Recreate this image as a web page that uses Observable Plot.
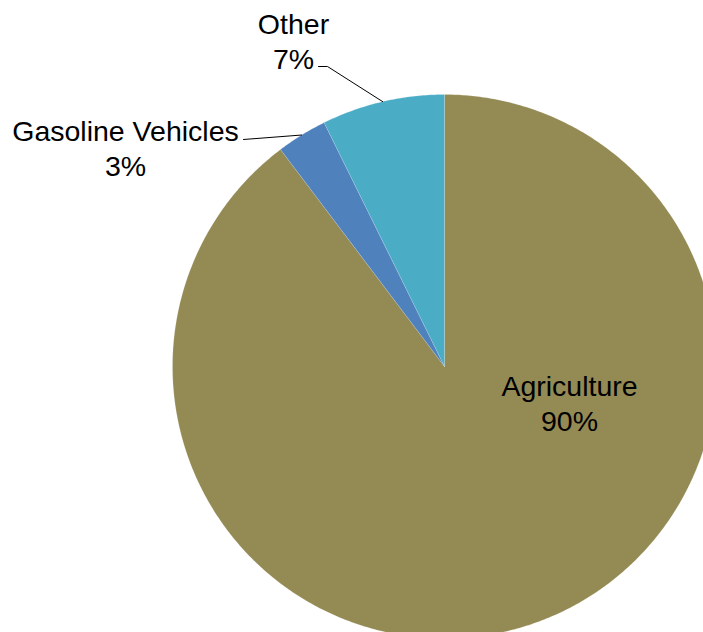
<!DOCTYPE html>
<html><head><meta charset="utf-8">
<script src="https://cdn.jsdelivr.net/npm/d3@7"></script>
<script src="https://cdn.jsdelivr.net/npm/@observablehq/plot@0.6"></script>
<style>html,body{margin:0;padding:0;overflow:hidden;background:#fff}</style>
</head><body><div id="chart"></div>
<script>
// ---- data ----
const categories = ["Agriculture", "Gasoline Vehicles", "Other"];
const values = [89.7, 3.0, 7.3];
const percentLabels = ["90%", "3%", "7%"];
const colors = ["#948A54", "#4F81BD", "#4BACC6"];

// ---- layout ----
const W = 703, H = 632, CX = 444, CY = 366, R = 272;
const FONT = "'Liberation Sans', Arial, sans-serif";
const toX = px => (px - CX) / R, toY = py => (CY - py) / R;
const labelLayout = {
  "Agriculture": {x: 569, y: 402, leader: null},
  "Gasoline Vehicles": {x: 125, y: 147, leader: [[243, 139]]},
  "Other": {x: 293, y: 40, leader: [[318, 66], [327, 66]]}
};

const arcs = d3.pie().sort(null).value(d => d)(values);
const slicePts = [];
const leaderPts = [];
const labelData = [];
arcs.forEach((a, i) => {
  const name = categories[i];
  const n = Math.max(2, Math.ceil((a.endAngle - a.startAngle) / (Math.PI / 360)));
  slicePts.push({name, x: 0, y: 0});
  for (let k = 0; k <= n; k++) {
    const t = a.startAngle + (a.endAngle - a.startAngle) * k / n;
    slicePts.push({name, x: Math.sin(t), y: Math.cos(t)});
  }
  slicePts.push({name, x: 0, y: 0});
  const L = labelLayout[name];
  labelData.push({name, x: toX(L.x), y: toY(L.y), text: name + "\n" + percentLabels[i]});
  if (L.leader) {
    L.leader.forEach(p => leaderPts.push({name, x: toX(p[0]), y: toY(p[1])}));
    const mid = (a.startAngle + a.endAngle) / 2;
    leaderPts.push({name, x: Math.sin(mid), y: Math.cos(mid)});
  }
});

const chart = Plot.plot({
  width: W, height: H, margin: 0,
  style: {fontFamily: FONT, background: "#fff"},
  x: {domain: [toX(0), toX(W)], axis: null},
  y: {domain: [toY(H), toY(0)], axis: null},
  color: {domain: categories, range: colors},
  marks: [
    Plot.line(slicePts, {x: "x", y: "y", z: "name", fill: "name", stroke: "white", strokeWidth: 0.5, strokeOpacity: 0.3, clip: true}),
    Plot.line(leaderPts, {x: "x", y: "y", z: "name", stroke: "black", strokeWidth: 1}),
    Plot.text(labelData, {x: "x", y: "y", text: "text", fontSize: 28.5, lineHeight: 1.23, textAnchor: "middle", lineAnchor: "middle", fill: "black"})
  ]
});
document.getElementById("chart").appendChild(chart);
</script>
</body></html>
